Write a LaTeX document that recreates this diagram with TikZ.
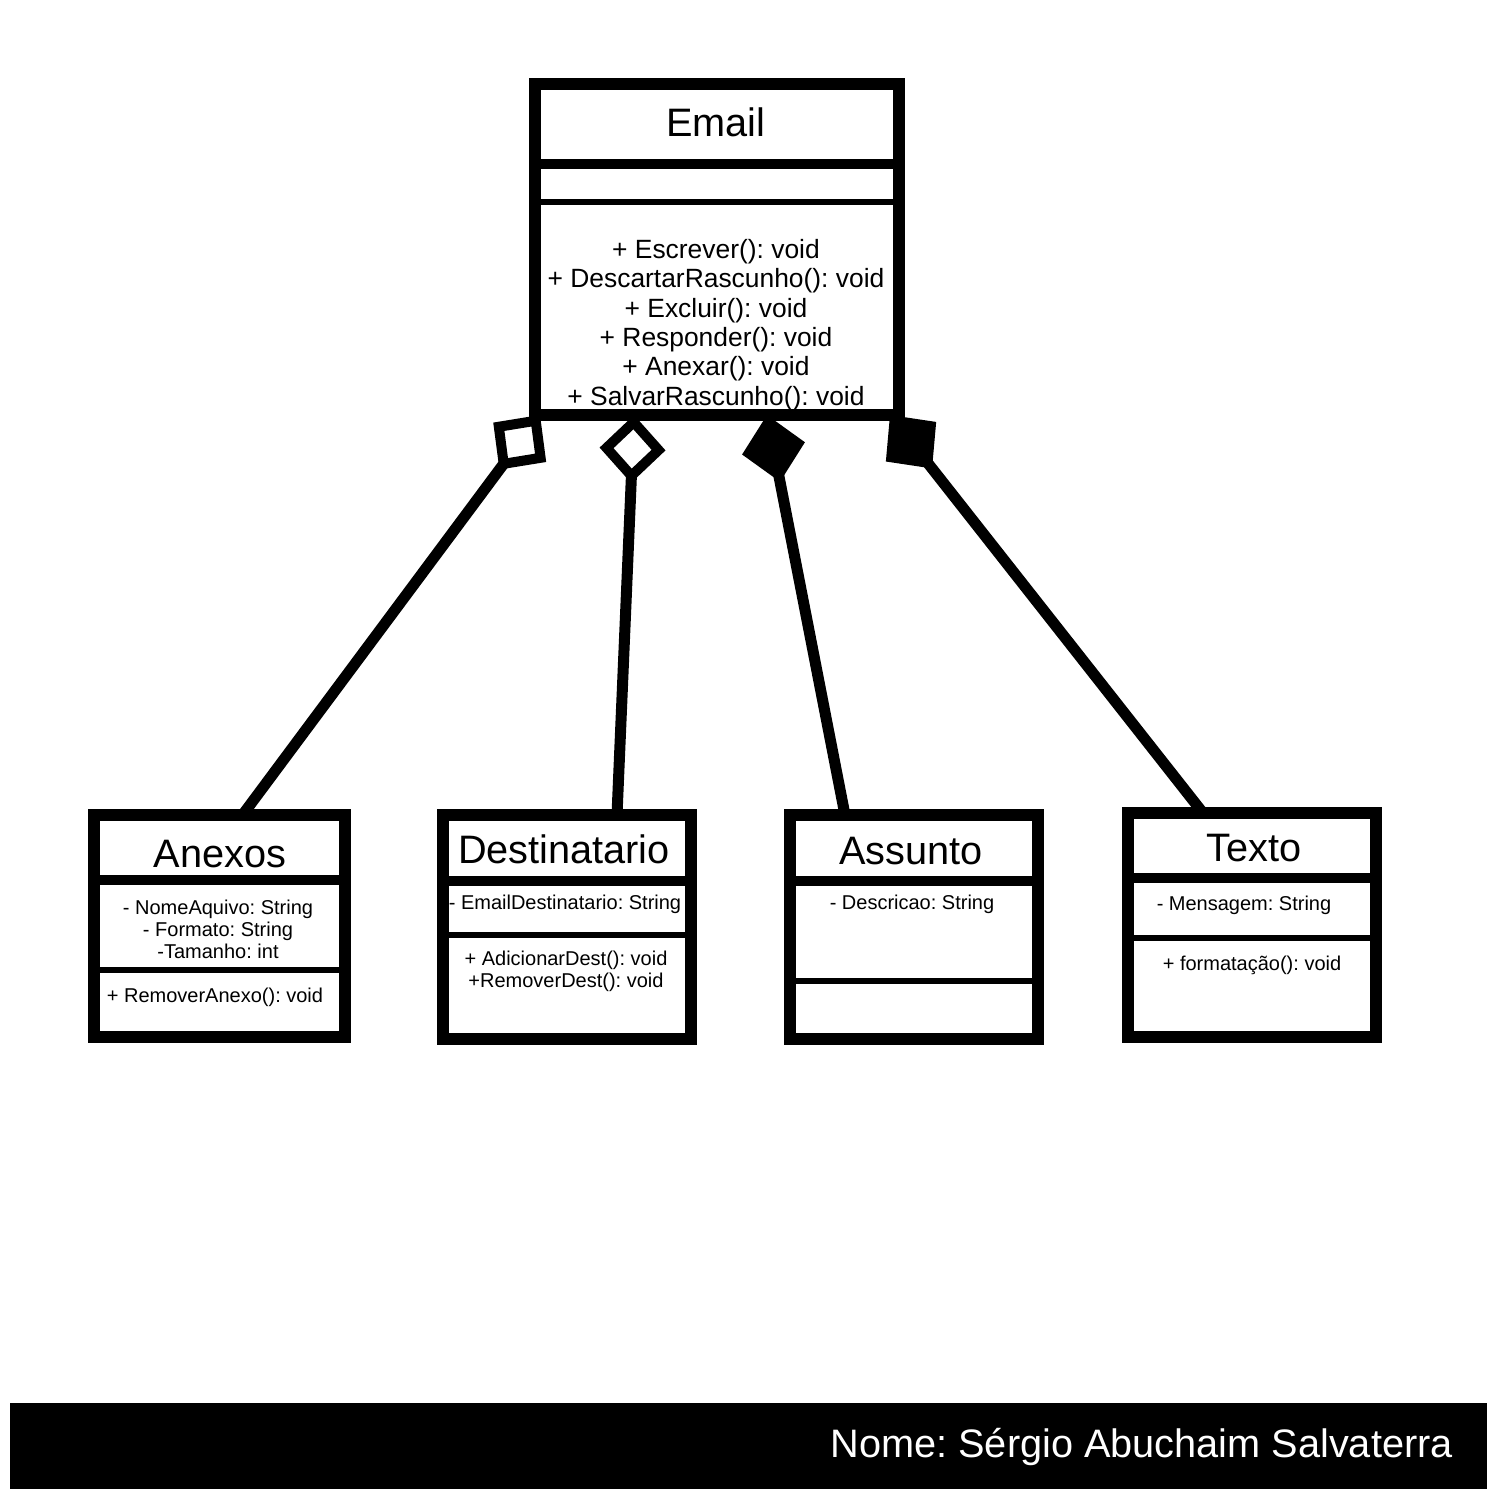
\documentclass[tikz,border=0pt]{standalone}
\usepackage{fontspec}
\setmainfont{Liberation Sans}
\usetikzlibrary{arrows.meta}
\frenchspacing

\newcommand\titulo{\fontsize{39.7}{44}\selectfont}
\newcommand\metodos{\fontsize{26.4}{29.4}\selectfont}
\newcommand\miudo{\fontsize{20}{22}\selectfont}

\begin{document}
\begin{tikzpicture}[x=1pt,y=-1pt,
 classe/.style={draw,line width=12pt,outer sep=0pt,inner sep=0pt,fill=white},
 texto/.style={inner sep=0pt,align=center},
 agrega/.style={line width=11pt,-{Diamond[open,length=68pt,width=66pt,line width=10pt]}},
 compoe/.style={line width=11pt,-{Diamond[length=68pt,width=64pt]}}]
 \tikzstyle{corte}=[line width=10pt]
 \tikzstyle{fino}=[line width=6pt]
 \fill[white] (0,0) rectangle (1500,1500);
 \useasboundingbox (0,0) rectangle (1500,1500);

 % classes
 \node[classe,minimum width=364pt,minimum height=331pt] (email)   at (717,249.5) {};
 \node[classe,minimum width=251pt,minimum height=222pt] (anexos)  at (219.5,926) {};
 \node[classe,minimum width=248pt,minimum height=224pt] (destino) at (567,927)   {};
 \node[classe,minimum width=248pt,minimum height=224pt] (assunto) at (914,927)   {};
 \node[classe,minimum width=248pt,minimum height=224pt] (textoc)  at (1252,925)  {};

 % compartimentos
 \draw[corte] (email.west |- 0,164)   -- (email.east |- 0,164);
 \draw[fino]  (email.west |- 0,202)   -- (email.east |- 0,202);
 \draw[corte] (anexos.west |- 0,880)  -- (anexos.east |- 0,880);
 \draw[fino]  (anexos.west |- 0,970)  -- (anexos.east |- 0,970);
 \draw[corte] (destino.west |- 0,880.5) -- (destino.east |- 0,880.5);
 \draw[fino]  (destino.west |- 0,934.5) -- (destino.east |- 0,934.5);
 \draw[corte] (assunto.west |- 0,881) -- (assunto.east |- 0,881);
 \draw[fino]  (assunto.west |- 0,980.5) -- (assunto.east |- 0,980.5);
 \draw[corte] (textoc.west |- 0,878)  -- (textoc.east |- 0,878);
 \draw[fino]  (textoc.west |- 0,937.5) -- (textoc.east |- 0,937.5);

 % textos
 \node[texto,font=\titulo,anchor=base] (tEmail) at (716,136) {Email};
 \node[texto,font=\metodos] (mEmail) at (716,325) {+ Escrever(): void\\
 + DescartarRascunho(): void\\ + Excluir(): void\\ + Responder(): void\\
 + Anexar(): void\\ + SalvarRascunho(): void};
 \node[texto,font=\titulo,anchor=base] (tAnexos) at (220,867) {Anexos};
 \node[texto,font=\miudo] (aAnexos) at (218,929) {- NomeAquivo: String\\
 - Formato: String\\ -Tamanho: int};
 \node[texto,font=\miudo] (mAnexos) at (215,997) {+ RemoverAnexo(): void};
 \node[texto,font=\titulo,anchor=base] (tDestino) at (564,863) {Destinatario};
 \node[texto,font=\miudo] (aDestino) at (565,904) {- EmailDestinatario: String};
 \node[texto,font=\miudo] (mDestino) at (566,971) {+ AdicionarDest(): void\\
 +RemoverDest(): void};
 \node[texto,font=\titulo,anchor=base] (tAssunto) at (911,864) {Assunto};
 \node[texto,font=\miudo] (aAssunto) at (912,904) {- Descricao: String};
 \node[texto,font=\titulo,anchor=base] (tTexto) at (1254,861) {Texto};
 \node[texto,font=\miudo] (aTexto) at (1244,905) {- Mensagem: String};
 \node[texto,font=\miudo] (mTexto) at (1252,965) {+ formatação(): void};

 % ligacoes
 \coordinate (p1) at ([xshift=5pt]email.south west);
 \coordinate (p2) at ([xshift=-83pt]email.south);
 \coordinate (p3) at ([xshift=50pt]email.south);
 \coordinate (p4) at ([xshift=-9pt]email.south east);
 \path ([xshift=23pt]anexos.north)   edge[agrega] (p1);
 \path ([xshift=50pt]destino.north)  edge[agrega] (p2);
 \path ([xshift=-69pt]assunto.north) edge[compoe] (p3);
 \path ([xshift=-49pt]textoc.north)  edge[compoe] (p4);

 % rodape
 \node[fill=black,minimum width=1477pt,minimum height=86pt,inner sep=0pt] (rodape) at (748.5,1446) {};
 \node[texto,font=\titulo,anchor=base east,text=white] (nome) at (1453,1457) {Nome: Sérgio Abuchaim Salvaterra};
\end{tikzpicture}
\end{document}
